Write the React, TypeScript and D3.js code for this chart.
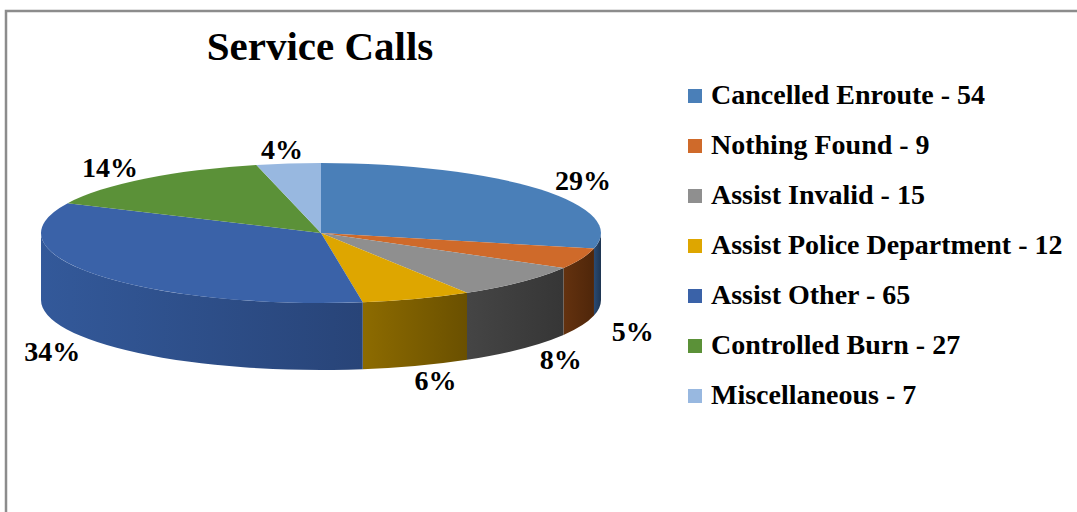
import React from "react";
import * as d3 from "d3";

const categories = [
  "Cancelled Enroute",
  "Nothing Found",
  "Assist Invalid",
  "Assist Police Department",
  "Assist Other",
  "Controlled Burn",
  "Miscellaneous",
];
const values = [54, 9, 15, 12, 65, 27, 7];
const topColors = ["#4a7fb8", "#cf6a2a", "#8f8f8f", "#dea600", "#3a62a8", "#5b9138", "#98b8e0"];
const sideLight = ["#2a4a72", "#64320f", "#454545", "#8d6b00", "#33599a", "#3e6626", "#6d89ad"];
const sideDark = ["#1e3552", "#4f260a", "#363636", "#6a5000", "#284478", "#2f4e1c", "#55708f"];
const title = "Service Calls";

const W = 1077;
const H = 512;
const cx = 321;
const cy = 233;
const rx = 280;
const ry = 70;
const depth = 67;

export default function App() {
  const total = d3.sum(values);
  const arcs = d3
    .pie<number>()
    .sort(null)
    .startAngle(0)
    .endAngle(2 * Math.PI)(values);

  const px = (a: number) => cx + rx * Math.sin(a);
  const py = (a: number) => cy - ry * Math.cos(a);

  const topPath = (a0: number, a1: number) => {
    const large = a1 - a0 > Math.PI ? 1 : 0;
    return `M${cx},${cy}L${px(a0)},${py(a0)}A${rx},${ry} 0 ${large} 1 ${px(a1)},${py(a1)}Z`;
  };
  const sidePath = (a0: number, a1: number) => {
    const b0 = Math.max(a0, Math.PI / 2);
    const b1 = Math.min(a1, (3 * Math.PI) / 2);
    if (b1 <= b0) return null;
    const large = b1 - b0 > Math.PI ? 1 : 0;
    return `M${px(b0)},${py(b0)}A${rx},${ry} 0 ${large} 1 ${px(b1)},${py(b1)}L${px(b1)},${py(b1) + depth}A${rx},${ry} 0 ${large} 0 ${px(b0)},${py(b0) + depth}Z`;
  };

  const font = '"Liberation Serif", "Times New Roman", serif';
  const legendX = 688;
  const legendY0 = 104;
  const legendStep = 50;

  return (
    <svg
      width={W}
      height={H}
      style={{ position: "absolute", left: 0, top: 0, background: "#fff" }}
    >
      <defs>
        {categories.map((c, i) => (
          <linearGradient key={c} id={`side${i}`} x1="0" x2="1" y1="0" y2="0">
            <stop offset="0" stopColor={sideLight[i]} />
            <stop offset="1" stopColor={sideDark[i]} />
          </linearGradient>
        ))}
      </defs>
      <rect x={0} y={0} width={W} height={H} fill="#fff" />
      <path d={`M6,${H}L6,11L${W},11`} fill="none" stroke="#8c8c8c" strokeWidth={2.5} />

      <text
        x={320}
        y={60}
        textAnchor="middle"
        fontFamily={font}
        fontWeight="bold"
        fontSize={41}
        fill="#000"
      >
        {title}
      </text>

      {arcs.map((a, i) => {
        const d = sidePath(a.startAngle, a.endAngle);
        return d ? <path key={`s${i}`} d={d} fill={`url(#side${i})`} /> : null;
      })}
      {arcs.map((a, i) => (
        <path key={`t${i}`} d={topPath(a.startAngle, a.endAngle)} fill={topColors[i]} />
      ))}

      {arcs.map((a, i) => {
        const m = (a.startAngle + a.endAngle) / 2;
        const x = cx + (rx + 55) * Math.sin(m);
        const y = cy - (ry + 15) * Math.cos(m) + (Math.cos(m) < 0 ? depth : 0);
        return (
          <text
            key={`l${i}`}
            x={x}
            y={y + 10}
            textAnchor="middle"
            fontFamily={font}
            fontWeight="bold"
            fontSize={28}
            fill="#000"
          >
            {`${Math.round((values[i] / total) * 100)}%`}
          </text>
        );
      })}

      {categories.map((c, i) => (
        <g key={`g${i}`}>
          <rect
            x={legendX}
            y={legendY0 + i * legendStep - 15}
            width={14}
            height={14}
            fill={topColors[i]}
          />
          <text
            x={legendX + 23}
            y={legendY0 + i * legendStep}
            fontFamily={font}
            fontWeight="bold"
            fontSize={28}
            fill="#000"
          >
            {`${c} - ${values[i]}`}
          </text>
        </g>
      ))}
    </svg>
  );
}
